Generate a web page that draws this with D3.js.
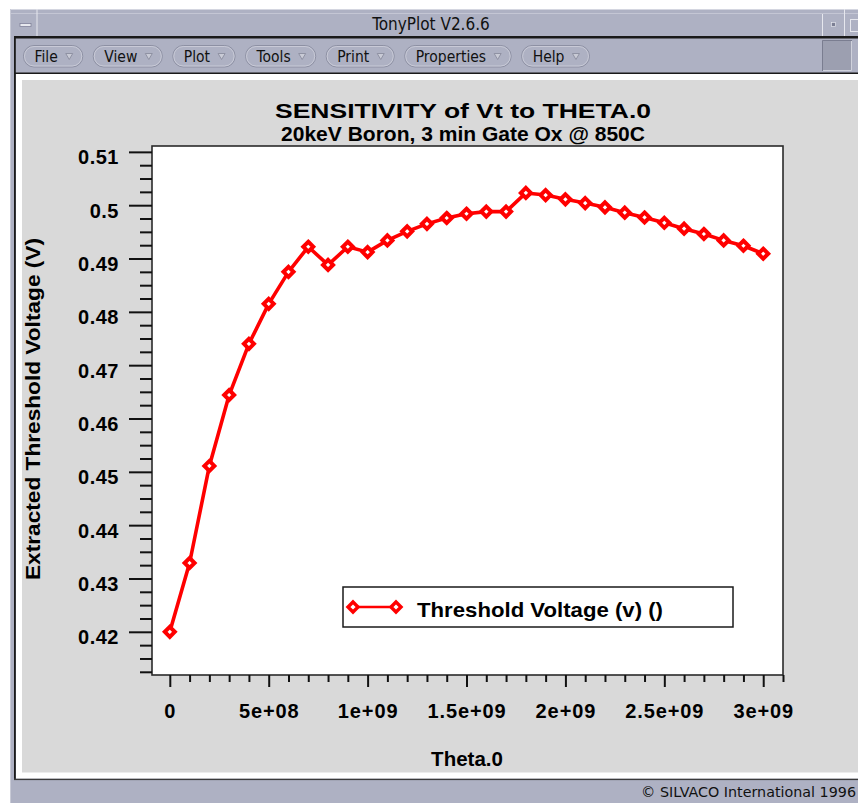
<!DOCTYPE html>
<html>
<head>
<meta charset="utf-8">
<script src="https://cdn.jsdelivr.net/npm/d3@7"></script>
<style>
  html, body { margin: 0; padding: 0; background: #ffffff; }
  svg { display: block; }
</style>
</head>
<body>
<svg id="chart" width="858" height="803"></svg>
<script>
// ---------------- data ----------------
const thetaValues = [0, 1e8, 2e8, 3e8, 4e8, 5e8, 6e8, 7e8, 8e8, 9e8,
  1.0e9, 1.1e9, 1.2e9, 1.3e9, 1.4e9, 1.5e9, 1.6e9, 1.7e9, 1.8e9, 1.9e9,
  2.0e9, 2.1e9, 2.2e9, 2.3e9, 2.4e9, 2.5e9, 2.6e9, 2.7e9, 2.8e9, 2.9e9, 3.0e9];
const vtValues = [0.4200, 0.4329, 0.4511, 0.4644, 0.4740, 0.4815, 0.4875, 0.4922, 0.4888, 0.4922,
  0.4912, 0.4934, 0.4951, 0.4965, 0.4976, 0.4984, 0.4988, 0.4988, 0.5023, 0.5019,
  0.5011, 0.5004, 0.4996, 0.4986, 0.4977, 0.4967, 0.4956, 0.4946, 0.4934, 0.4924, 0.4909];
const xTickValues = [0, 5e8, 1e9, 1.5e9, 2e9, 2.5e9, 3e9];
const xTickLabels = ["0", "5e+08", "1e+09", "1.5e+09", "2e+09", "2.5e+09", "3e+09"];
const yTickValues = [0.42, 0.43, 0.44, 0.45, 0.46, 0.47, 0.48, 0.49, 0.50, 0.51];
const yTickLabels = ["0.42", "0.43", "0.44", "0.45", "0.46", "0.47", "0.48", "0.49", "0.5", "0.51"];
const titleLines = ["SENSITIVITY of Vt to THETA.0", "20keV Boron, 3 min Gate Ox @ 850C"];
const xAxisTitle = "Theta.0";
const yAxisTitle = "Extracted Threshold Voltage (V)";
const seriesName = "Threshold Voltage (v) ()";
const windowTitle = "TonyPlot V2.6.6";
const menuItems = ["File", "View", "Plot", "Tools", "Print", "Properties", "Help"];
const footerText = "\u00A9 SILVACO International 1996";

// ---------------- setup ----------------
const svg = d3.select("#chart");
const W = 858, H = 803;
const frameCol = "#aeb1c3";
const uiFont = "'DejaVu Sans', sans-serif";
const menuFont = "'DejaVu Sans Condensed', 'DejaVu Sans', sans-serif";
const plotFont = "'Liberation Sans', Arial, Helvetica, sans-serif";

// window chrome
svg.append("rect").attr("x", 0).attr("y", 0).attr("width", W).attr("height", H).attr("fill", "#ffffff");
svg.append("rect").attr("x", 10).attr("y", 9).attr("width", W - 10).attr("height", H - 9).attr("fill", frameCol);
// title bar
svg.append("line").attr("x1", 10).attr("x2", W).attr("y1", 9.5).attr("y2", 9.5).attr("stroke", "#d4d6e0");
svg.append("line").attr("x1", 10).attr("x2", W).attr("y1", 13.5).attr("y2", 13.5).attr("stroke", "#c4c6d4");
svg.append("line").attr("x1", 10.5).attr("x2", 10.5).attr("y1", 9).attr("y2", H).attr("stroke", "#c8cad6");
svg.append("line").attr("x1", 37).attr("x2", 37).attr("y1", 9).attr("y2", 37).attr("stroke", "#e6e7ee");
svg.append("rect").attr("x", 20).attr("y", 23.5).attr("width", 11).attr("height", 3).attr("fill", "#e8e9ef").attr("stroke", "#80829a").attr("stroke-width", 0.8);
svg.append("line").attr("x1", 822.5).attr("x2", 822.5).attr("y1", 14).attr("y2", 36).attr("stroke", "#e6e7ee");
svg.append("line").attr("x1", 844.5).attr("x2", 844.5).attr("y1", 9).attr("y2", 36).attr("stroke", "#e6e7ee");
svg.append("rect").attr("x", 831.5).attr("y", 22.5).attr("width", 4).attr("height", 4).attr("fill", "#7c7f94").attr("stroke", "#e6e7ee").attr("stroke-width", 0.7);
svg.append("rect").attr("x", 850.5).attr("y", 19.5).attr("width", 12).attr("height", 12).attr("fill", "none").attr("stroke", "#e6e7ee");
svg.append("text").attr("x", 431).attr("y", 30).attr("text-anchor", "middle")
  .attr("font-family", menuFont).attr("font-size", 17).attr("fill", "#111").text(windowTitle);

// dark separators
svg.append("rect").attr("x", 14).attr("y", 36).attr("width", W - 14).attr("height", 2.5).attr("fill", "#1a1a1a");
svg.append("rect").attr("x", 14).attr("y", 72.5).attr("width", W - 14).attr("height", 1.6).attr("fill", "#1a1a1a");
svg.append("rect").attr("x", 14).attr("y", 36).attr("width", 1.8).attr("height", 744).attr("fill", "#1a1a1a");
svg.append("rect").attr("x", 14).attr("y", 778.5).attr("width", W - 14).attr("height", 1.6).attr("fill", "#3a3a3a");
// menu right square
svg.append("rect").attr("x", 822).attr("y", 40).attr("width", 30).attr("height", 31).attr("fill", "#9c9fb0");
svg.append("path").attr("d", "M822.5,71 V40.5 H852").attr("fill", "none").attr("stroke", "#7a7d90");
svg.append("path").attr("d", "M823,70.5 H851.5 V41").attr("fill", "none").attr("stroke", "#d0d2dc");

// white content strip + grey plot area
svg.append("rect").attr("x", 16).attr("y", 74).attr("width", W - 16).attr("height", 704.5).attr("fill", "#ffffff");
svg.append("rect").attr("x", 22).attr("y", 80).attr("width", W - 22).attr("height", 692.5).attr("fill", "#d9d9d9");

// status bar text
svg.append("text").attr("x", 856).attr("y", 797).attr("text-anchor", "end")
  .attr("font-family", uiFont).attr("font-size", 14.3).attr("fill", "#111").text(footerText);

// menu buttons
let bx = 23;
menuItems.forEach(name => {
  const g = svg.append("g");
  const t = g.append("text").attr("x", bx + 11.5).attr("y", 61.5)
    .attr("font-family", menuFont).attr("font-stretch", "condensed")
    .attr("font-size", 15.5).attr("fill", "#111").text(name);
  const tw = t.node().getComputedTextLength();
  const triX = bx + 11.5 + tw + 8;
  const bw = 11.5 + tw + 8 + 7 + 9.5;
  g.insert("rect", "text").attr("x", bx + 0.5).attr("y", 45.5).attr("width", bw).attr("height", 21.5)
    .attr("rx", 10.5).attr("ry", 10.5).attr("fill", frameCol).attr("stroke", "#8d90a3").attr("stroke-width", 1);
  g.insert("rect", "text").attr("x", bx + 1.5).attr("y", 46.5).attr("width", bw - 2).attr("height", 19.5)
    .attr("rx", 9.5).attr("ry", 9.5).attr("fill", "none").attr("stroke", "#cfd1dc").attr("stroke-width", 0.8);
  g.append("path").attr("d", `M${triX},53.5 L${triX + 7},53.5 L${triX + 3.5},59.5 Z`)
    .attr("fill", "#c9cbd6").attr("stroke", "#8a8c9e").attr("stroke-width", 0.9);
  bx += bw + 10.5;
});

// ---------------- plot ----------------
const plot = { left: 152, right: 783, top: 146, bottom: 675 };
const x = d3.scaleLinear().domain([-0.09e9, 3.1e9]).range([plot.left, plot.right]);
const y = d3.scaleLinear().domain([0.4119, 0.5111]).range([plot.bottom, plot.top]);

svg.append("rect").attr("x", plot.left).attr("y", plot.top)
  .attr("width", plot.right - plot.left).attr("height", plot.bottom - plot.top)
  .attr("fill", "#ffffff").attr("stroke", "#2a2a2a").attr("stroke-width", 1.6);

// y axis: major + minor ticks
const yMinor = d3.range(0.4125, 0.5101, 0.0025).filter(v => Math.abs(Math.round(v * 100) / 100 - v) > 1e-6);
const yAxisMajor = d3.axisLeft(y).tickValues(yTickValues).tickSize(23).tickPadding(8)
  .tickFormat((d, i) => yTickLabels[i]);
const yAxisMinor = d3.axisLeft(y).tickValues(yMinor).tickSize(12).tickFormat("");
const gyMinor = svg.append("g").attr("transform", `translate(${plot.left},0)`).call(yAxisMinor);
const gy = svg.append("g").attr("transform", `translate(${plot.left},0)`).call(yAxisMajor);
[gy, gyMinor].forEach(g => {
  g.select(".domain").remove();
  g.selectAll(".tick line").attr("stroke", "#111").attr("stroke-width", 2);
});
gy.selectAll(".tick text").attr("font-family", plotFont).attr("font-weight", "bold")
  .attr("font-size", 20).attr("fill", "#000").attr("letter-spacing", "0.5px")
  .attr("x", -33).attr("dy", "0.95em").attr("y", -7);

// x axis
const xMinor = d3.range(0, 3.1e9 + 1, 1e8).filter(v => Math.abs(v / 5e8 - Math.round(v / 5e8)) > 1e-6);
const xAxisMajor = d3.axisBottom(x).tickValues(xTickValues).tickSize(12).tickPadding(17)
  .tickFormat((d, i) => xTickLabels[i]);
const xAxisMinor = d3.axisBottom(x).tickValues(xMinor).tickSize(7).tickFormat("");
const gxMinor = svg.append("g").attr("transform", `translate(0,${plot.bottom})`).call(xAxisMinor);
const gx = svg.append("g").attr("transform", `translate(0,${plot.bottom})`).call(xAxisMajor);
[gx, gxMinor].forEach(g => {
  g.select(".domain").remove();
  g.selectAll(".tick line").attr("stroke", "#111").attr("stroke-width", 2);
});
gx.selectAll(".tick text").attr("font-family", plotFont).attr("font-weight", "bold")
  .attr("font-size", 20).attr("fill", "#000").attr("letter-spacing", "0.9px");

// titles
titleLines.forEach((t, i) => {
  svg.append("text").attr("x", 463).attr("y", i === 0 ? 118 : 141).attr("text-anchor", "middle")
    .attr("font-family", plotFont).attr("font-weight", "bold").attr("font-size", 21)
    .attr("fill", "#000").attr("textLength", i === 0 ? 376 : 364).attr("lengthAdjust", "spacingAndGlyphs")
    .text(t);
});
svg.append("text").attr("x", 467).attr("y", 766).attr("text-anchor", "middle")
  .attr("font-family", plotFont).attr("font-weight", "bold").attr("font-size", 20.5)
  .attr("fill", "#000").text(xAxisTitle);
svg.append("text").attr("transform", "translate(40,409) rotate(-90)").attr("text-anchor", "middle")
  .attr("font-family", plotFont).attr("font-weight", "bold").attr("font-size", 20.5)
  .attr("fill", "#000").attr("textLength", 342).attr("lengthAdjust", "spacingAndGlyphs").text(yAxisTitle);

// series
const data = thetaValues.map((t, i) => ({ t, v: vtValues[i] }));
const lineGen = d3.line().x(d => x(d.t)).y(d => y(d.v));
svg.append("path").datum(data).attr("d", lineGen)
  .attr("fill", "none").attr("stroke", "#ff0000").attr("stroke-width", 3.6).attr("stroke-linejoin", "round");

const diamond = (cx, cy, r) => `M${cx},${cy - r} L${cx + r},${cy} L${cx},${cy + r} L${cx - r},${cy} Z`;
svg.append("g").selectAll("path").data(data).join("path")
  .attr("d", d => diamond(x(d.t), y(d.v), 5))
  .attr("fill", "#ffffff").attr("stroke", "#ff0000").attr("stroke-width", 4);

// legend
const leg = { x: 343, y: 587, w: 390, h: 40 };
svg.append("rect").attr("x", leg.x).attr("y", leg.y).attr("width", leg.w).attr("height", leg.h)
  .attr("fill", "#ffffff").attr("stroke", "#1a1a1a").attr("stroke-width", 1.5);
svg.append("line").attr("x1", leg.x + 10).attr("x2", leg.x + 53).attr("y1", leg.y + 20).attr("y2", leg.y + 20)
  .attr("stroke", "#ff0000").attr("stroke-width", 2.6);
[leg.x + 10, leg.x + 53].forEach(cx => {
  svg.append("path").attr("d", diamond(cx, leg.y + 20, 5))
    .attr("fill", "#ffffff").attr("stroke", "#ff0000").attr("stroke-width", 3.4);
});
svg.append("text").attr("x", leg.x + 74).attr("y", leg.y + 30)
  .attr("font-family", plotFont).attr("font-weight", "bold").attr("font-size", 21)
  .attr("fill", "#000").attr("textLength", 246).attr("lengthAdjust", "spacingAndGlyphs").text(seriesName);
</script>
</body>
</html>
